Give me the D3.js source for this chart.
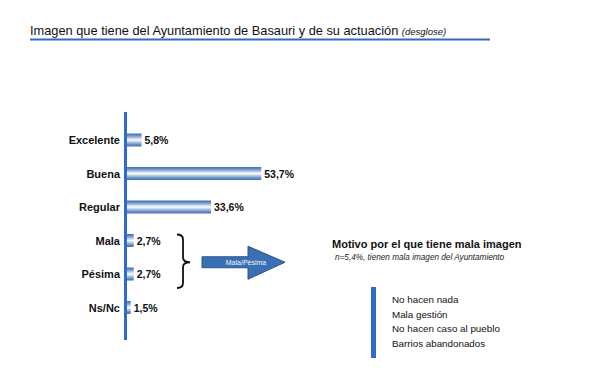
<!DOCTYPE html>
<html><head><meta charset="utf-8">
<script src="https://cdn.jsdelivr.net/npm/d3@7/dist/d3.min.js"></script>
<style>html,body{margin:0;padding:0;background:#fff;}svg{display:block;font-family:"Liberation Sans",Arial,sans-serif;}</style>
</head><body>
<script>
const categories = ["Excelente","Buena","Regular","Mala","Pésima","Ns/Nc"];
const values = [5.8, 53.7, 33.6, 2.7, 2.7, 1.5];
const valueLabels = ["5,8%","53,7%","33,6%","2,7%","2,7%","1,5%"];
const reasons = ["No hacen nada","Mala gestión","No hacen caso al pueblo","Barrios abandonados"];
const titleMain = "Imagen que tiene del Ayuntamiento de Basauri y de su actuación";
const titleSub = "(desglose)";
const sideTitle = "Motivo por el que tiene mala imagen";
const sideSub = "n=5,4%, tienen mala imagen del Ayuntamiento";
const arrowLabel = "Mala/Pésima";

const W = 595, H = 378;
const blue = "#2f6cc9";
const svg = d3.select("body").append("svg").attr("width", W).attr("height", H);

const defs = svg.append("defs");
const g = defs.append("linearGradient").attr("id","barGrad").attr("x1",0).attr("y1",0).attr("x2",0).attr("y2",1);
[[0,"#3f6fb0"],[0.18,"#6f97c9"],[0.5,"#ffffff"],[0.82,"#6f97c9"],[1,"#3f6fb0"]].forEach(([o,c])=>g.append("stop").attr("offset",o).attr("stop-color",c));

// Title
const t = svg.append("text").attr("x",30).attr("y",35).attr("fill","#111");
t.append("tspan").attr("font-size","12.8px").text(titleMain + " ");
t.append("tspan").attr("font-size","9.5px").attr("font-style","italic").text(titleSub);
svg.append("line").attr("x1",30).attr("x2",490).attr("y1",39.5).attr("y2",39.5).attr("stroke",blue).attr("stroke-width",2.2);

// scales
const x = d3.scaleLinear().domain([0,100]).range([127, 377]);
const y = d3.scalePoint().domain(categories).range([140, 307.5]);
const barH = 13;

// bars
svg.selectAll("rect.bar").data(categories).enter().append("rect")
  .attr("class","bar")
  .attr("x", x(0))
  .attr("y", d => y(d) - barH/2)
  .attr("width", (d,i) => x(values[i]) - x(0))
  .attr("height", barH)
  .attr("fill","url(#barGrad)");

// axis line
svg.append("line").attr("x1",125.5).attr("x2",125.5).attr("y1",112).attr("y2",340).attr("stroke",blue).attr("stroke-width",3);

// category labels
svg.selectAll("text.cat").data(categories).enter().append("text")
  .attr("class","cat").attr("x",120).attr("y",d=>y(d)+4)
  .attr("text-anchor","end").attr("font-size","11px").attr("font-weight","bold").attr("fill","#111")
  .text(d=>d);

// value labels
svg.selectAll("text.val").data(categories).enter().append("text")
  .attr("class","val").attr("x",(d,i)=>x(values[i])+3).attr("y",d=>y(d)+4)
  .attr("font-size","10.5px").attr("font-weight","bold").attr("fill","#111")
  .text((d,i)=>valueLabels[i]);

// bracket
const yTop = y("Mala") - 6, yBot = y("Pésima") + 14, yMid = (y("Mala") + y("Pésima"))/2 + 5;
const bx = 183;
svg.append("path")
  .attr("d", `M${bx-6},${yTop} Q${bx},${yTop} ${bx},${yTop+5} L${bx},${yMid-5} Q${bx},${yMid} ${bx+7},${yMid} Q${bx},${yMid} ${bx},${yMid+5} L${bx},${yBot-5} Q${bx},${yBot} ${bx-6},${yBot}`)
  .attr("fill","none").attr("stroke","#111").attr("stroke-width",1.8);

// arrow
const ay = yMid;
svg.append("path")
  .attr("d", `M202,${ay-5.5} L248,${ay-5.5} L248,${ay-16} L285,${ay} L248,${ay+17} L248,${ay+5.5} L202,${ay+5.5} Z`)
  .attr("fill","#3b6fb3").attr("stroke","#2a5490").attr("stroke-width",1);
svg.append("text").attr("x",246).attr("y",ay+2.4).attr("text-anchor","middle")
  .attr("font-size","7px").attr("fill","#f4f6fb").text(arrowLabel);

// side titles
svg.append("text").attr("x",332).attr("y",248).attr("font-size","11px").attr("font-weight","bold").attr("fill","#111").text(sideTitle);
svg.append("text").attr("x",335).attr("y",260).attr("font-size","8.2px").attr("font-style","italic").attr("fill","#222").text(sideSub);

// side bar
svg.append("rect").attr("x",371).attr("y",287).attr("width",5).attr("height",71).attr("fill",blue);

// reasons
svg.selectAll("text.reason").data(reasons).enter().append("text")
  .attr("class","reason").attr("x",392).attr("y",(d,i)=>303 + i*14.6)
  .attr("font-size","9.8px").attr("fill","#111").text(d=>d);
</script>
</body></html>
